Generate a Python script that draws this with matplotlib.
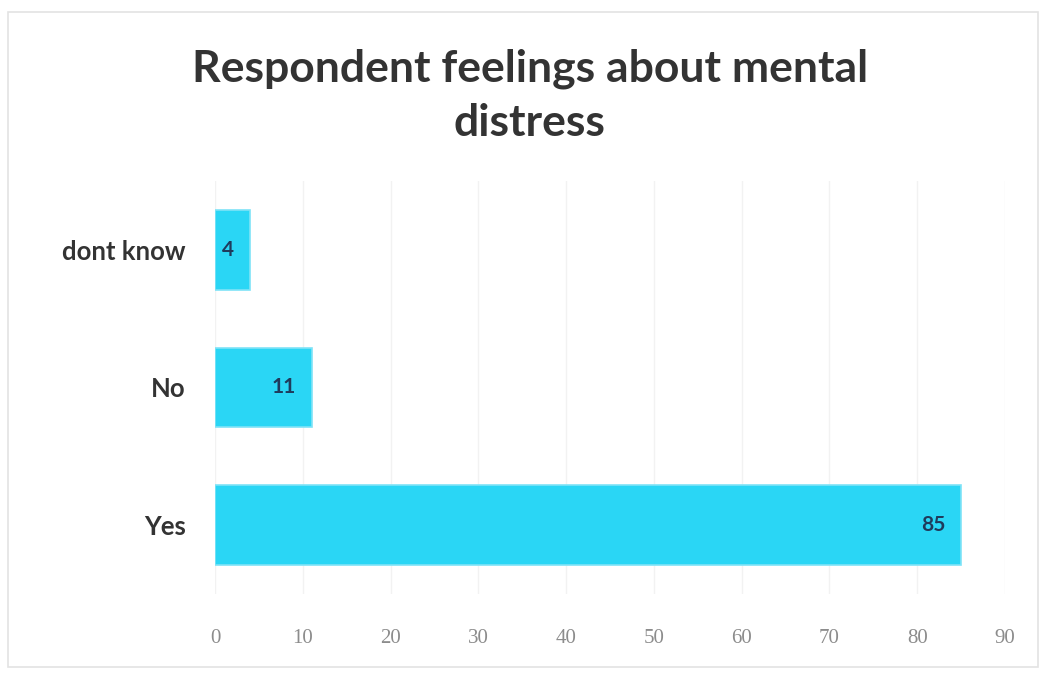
import matplotlib
matplotlib.use("Agg")
import matplotlib.pyplot as plt
from matplotlib.patches import Rectangle

categories = ["Yes", "No", "dont know"]
values = [85, 11, 4]
xticks = [0, 10, 20, 30, 40, 50, 60, 70, 80, 90]

fig = plt.figure(figsize=(10.45, 6.74), dpi=100)
ax = fig.add_axes([0.2057, 0.1187, 0.7560, 0.6128])

ypos = list(range(len(categories)))
bars = ax.barh(ypos, values, height=0.58, color="#2AD6F5", edgecolor="#7FE3F7", linewidth=1.2, zorder=3)
for y, v in zip(ypos, values):
    ax.text(v - 1.8, y, str(v), ha="right", va="center", fontsize=15, fontweight="bold",
            color="#1F3B5C", family="Lato", zorder=4)

ax.set_xlim(0, 90)
ax.set_ylim(-0.5, 2.5)
ax.set_xticks(xticks)
ax.set_xticklabels([str(t) for t in xticks], family="Liberation Serif", fontsize=15, color="#8C8C8C")
ax.set_yticks(ypos)
ax.set_yticklabels(categories, family="Lato", fontsize=18.5, fontweight="bold", color="#333333")
ax.tick_params(axis="both", length=0)
ax.tick_params(axis="x", pad=25)
ax.tick_params(axis="y", pad=21)
ax.grid(axis="x", color="#F2F2F2", linewidth=1, zorder=0)
for s in ax.spines.values():
    s.set_visible(False)

fig.text(0.507, 0.858, "Respondent feelings about mental\ndistress", ha="center", va="center",
         family="Lato", fontweight="bold", fontsize=32, color="#333333", linespacing=1.45)

fig.patches.append(Rectangle((0.008, 0.01), 0.985, 0.972, transform=fig.transFigure,
                             fill=False, edgecolor="#E3E3E3", linewidth=1.2))

fig.savefig("out.png", dpi=100, facecolor="white")
